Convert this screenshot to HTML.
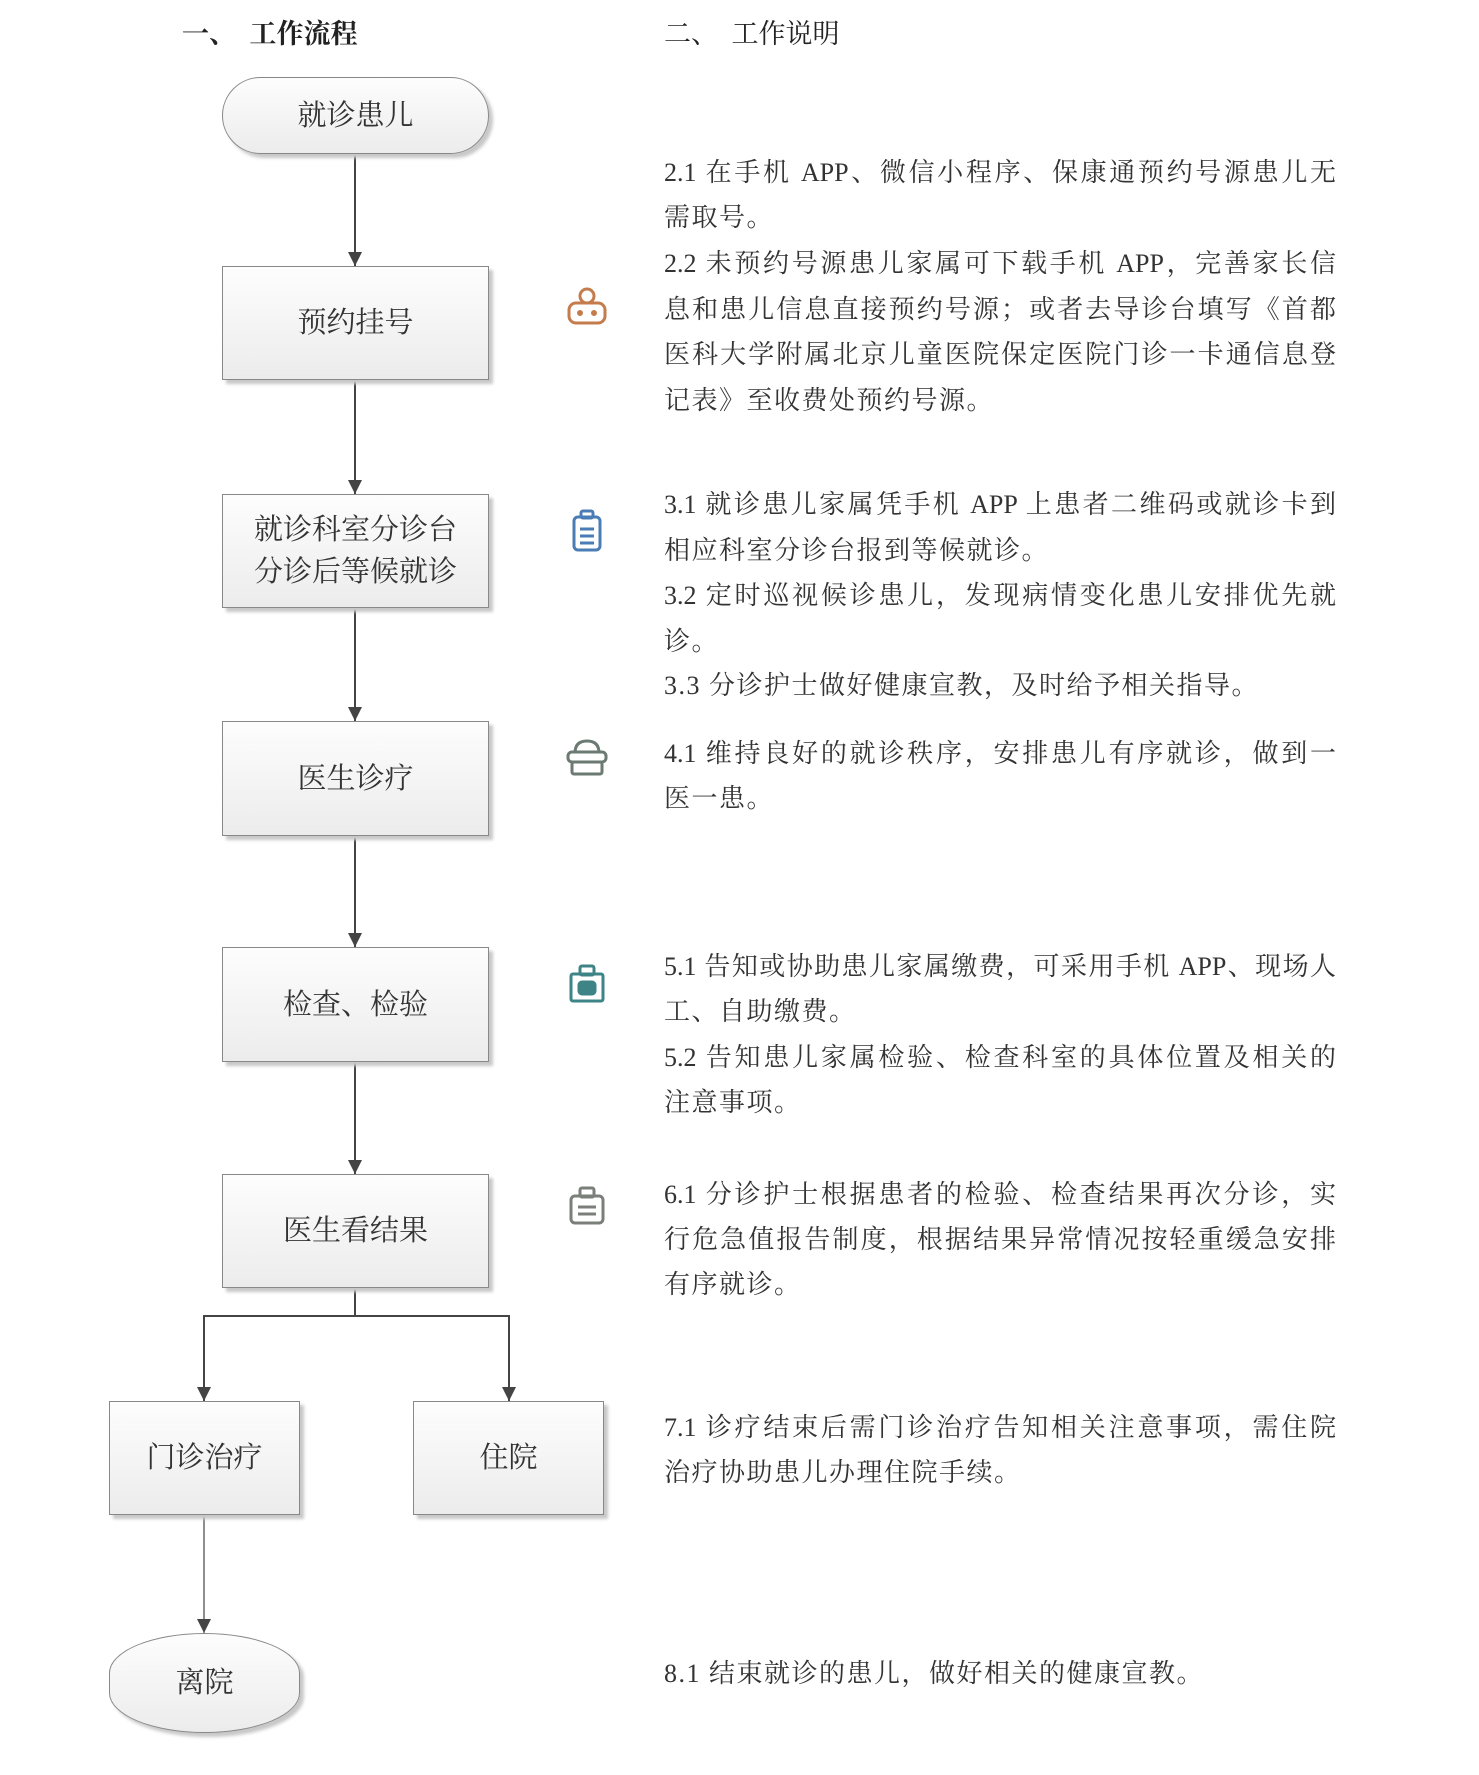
<!DOCTYPE html>
<html><head><meta charset="utf-8"><style>
body{margin:0;width:1479px;height:1775px;background:#fff;position:relative;overflow:hidden;font-family:"Liberation Serif","Noto Serif CJK SC",serif;color:#333}
.a{position:absolute}
.title{font-size:27px;font-weight:bold;top:12px;color:#222}
.box{position:absolute;box-sizing:border-box;border:1.5px solid #888;background:linear-gradient(#fdfdfd,#ececec);box-shadow:4px 4px 3px #c8c8c8;display:flex;align-items:center;justify-content:center;text-align:center;font-size:29px;line-height:42px;color:#333}
.t{position:absolute;left:664px;font-size:26px;line-height:30px;white-space:nowrap;color:#333}
.f{width:672px;text-align:justify;text-align-last:justify}
.n{letter-spacing:1.5px}
</style></head><body>
<div class="a title" style="left:182px">一、&nbsp;&nbsp;工作流程</div>
<div class="a title" style="left:664px;font-weight:normal">二、&nbsp;&nbsp;工作说明</div>

<svg class="a" style="left:0;top:0" width="700" height="1775">
<defs>
<marker id="ad" markerWidth="14" markerHeight="14" refX="7" refY="14" markerUnits="userSpaceOnUse"><path d="M0,0 L14,0 L7,14 Z" fill="#444"/></marker></defs>
<g stroke="#444" stroke-width="2" fill="none">
<line x1="355" y1="154" x2="355" y2="266" marker-end="url(#ad)"/>
<line x1="355" y1="380" x2="355" y2="494" marker-end="url(#ad)"/>
<line x1="355" y1="608" x2="355" y2="721" marker-end="url(#ad)"/>
<line x1="355" y1="836" x2="355" y2="947" marker-end="url(#ad)"/>
<line x1="355" y1="1062" x2="355" y2="1174" marker-end="url(#ad)"/>
<polyline points="355,1288 355,1316 204,1316 204,1401" marker-end="url(#ad)"/>
<polyline points="355,1316 509,1316 509,1401" marker-end="url(#ad)"/>
<line x1="204" y1="1515" x2="204" y2="1633" stroke-width="1.2" marker-end="url(#ad)"/>
</g></svg>

<div class="box" style="left:222px;top:77px;width:267px;height:77px;border-radius:39px">就诊患儿</div>
<div class="box" style="left:222px;top:266px;width:267px;height:114px">预约挂号</div>
<div class="box" style="left:222px;top:494px;width:267px;height:114px">就诊科室分诊台<br>分诊后等候就诊</div>
<div class="box" style="left:222px;top:721px;width:267px;height:115px">医生诊疗</div>
<div class="box" style="left:222px;top:947px;width:267px;height:115px">检查、检验</div>
<div class="box" style="left:222px;top:1174px;width:267px;height:114px">医生看结果</div>
<div class="box" style="left:109px;top:1401px;width:191px;height:114px">门诊治疗</div>
<div class="box" style="left:413px;top:1401px;width:191px;height:114px">住院</div>
<div class="box" style="left:109px;top:1633px;width:191px;height:100px;border-radius:50%/40%">离院</div>

<!-- icons -->
<svg class="a" style="left:564px;top:285px" width="46" height="46" fill="none" stroke="#c47c4c" stroke-width="3"><circle cx="23" cy="11" r="7"/><rect x="5" y="18" width="36" height="20" rx="7"/><circle cx="16" cy="28" r="1.5" fill="#c47c4c"/><circle cx="30" cy="28" r="1.5" fill="#c47c4c"/></svg>
<svg class="a" style="left:564px;top:508px" width="46" height="46" fill="none" stroke="#4a7db5" stroke-width="3"><rect x="10" y="9" width="26" height="33" rx="4"/><rect x="17" y="3" width="12" height="7" rx="2"/><line x1="16" y1="21" x2="30" y2="21"/><line x1="16" y1="28" x2="30" y2="28"/><line x1="16" y1="35" x2="30" y2="35"/></svg>
<svg class="a" style="left:563px;top:735px" width="48" height="46" fill="none" stroke="#6b7a72" stroke-width="3"><path d="M12,18 Q12,6 24,6 Q36,6 36,18"/><rect x="5" y="17" width="38" height="10" rx="4"/><rect x="9" y="27" width="30" height="12" rx="2"/></svg>
<svg class="a" style="left:564px;top:960px" width="46" height="46" fill="none" stroke="#3e8487" stroke-width="3"><rect x="7" y="14" width="32" height="27" rx="2"/><rect x="16" y="6" width="14" height="9" rx="2"/><rect x="15" y="22" width="16" height="12" rx="3" fill="#3e8487"/></svg>
<svg class="a" style="left:564px;top:1182px" width="46" height="46" fill="none" stroke="#7a7f7a" stroke-width="3"><rect x="7" y="14" width="32" height="27" rx="4"/><rect x="16" y="6" width="14" height="9" rx="2"/><line x1="14" y1="25" x2="32" y2="25"/><line x1="14" y1="32" x2="32" y2="32"/></svg>

<!-- text -->
<div class="t f" style="top:158px">2.1 在手机 APP、微信小程序、保康通预约号源患儿无</div>
<div class="t n" style="top:203px">需取号。</div>
<div class="t f" style="top:249px">2.2 未预约号源患儿家属可下载手机 APP，完善家长信</div>
<div class="t f" style="top:295px">息和患儿信息直接预约号源；或者去导诊台填写《首都</div>
<div class="t f" style="top:340px">医科大学附属北京儿童医院保定医院门诊一卡通信息登</div>
<div class="t n" style="top:386px">记表》至收费处预约号源。</div>

<div class="t f" style="top:490px">3.1 就诊患儿家属凭手机 APP 上患者二维码或就诊卡到</div>
<div class="t n" style="top:536px">相应科室分诊台报到等候就诊。</div>
<div class="t f" style="top:581px">3.2 定时巡视候诊患儿，发现病情变化患儿安排优先就</div>
<div class="t n" style="top:627px">诊。</div>
<div class="t n" style="top:671px">3.3 分诊护士做好健康宣教，及时给予相关指导。</div>

<div class="t f" style="top:739px">4.1 维持良好的就诊秩序，安排患儿有序就诊，做到一</div>
<div class="t n" style="top:784px">医一患。</div>

<div class="t f" style="top:952px">5.1 告知或协助患儿家属缴费，可采用手机 APP、现场人</div>
<div class="t n" style="top:997px">工、自助缴费。</div>
<div class="t f" style="top:1043px">5.2 告知患儿家属检验、检查科室的具体位置及相关的</div>
<div class="t n" style="top:1088px">注意事项。</div>

<div class="t f" style="top:1180px">6.1 分诊护士根据患者的检验、检查结果再次分诊，实</div>
<div class="t f" style="top:1225px">行危急值报告制度，根据结果异常情况按轻重缓急安排</div>
<div class="t n" style="top:1270px">有序就诊。</div>

<div class="t f" style="top:1413px">7.1 诊疗结束后需门诊治疗告知相关注意事项，需住院</div>
<div class="t n" style="top:1458px">治疗协助患儿办理住院手续。</div>

<div class="t n" style="top:1659px">8.1 结束就诊的患儿，做好相关的健康宣教。</div>
</body></html>
